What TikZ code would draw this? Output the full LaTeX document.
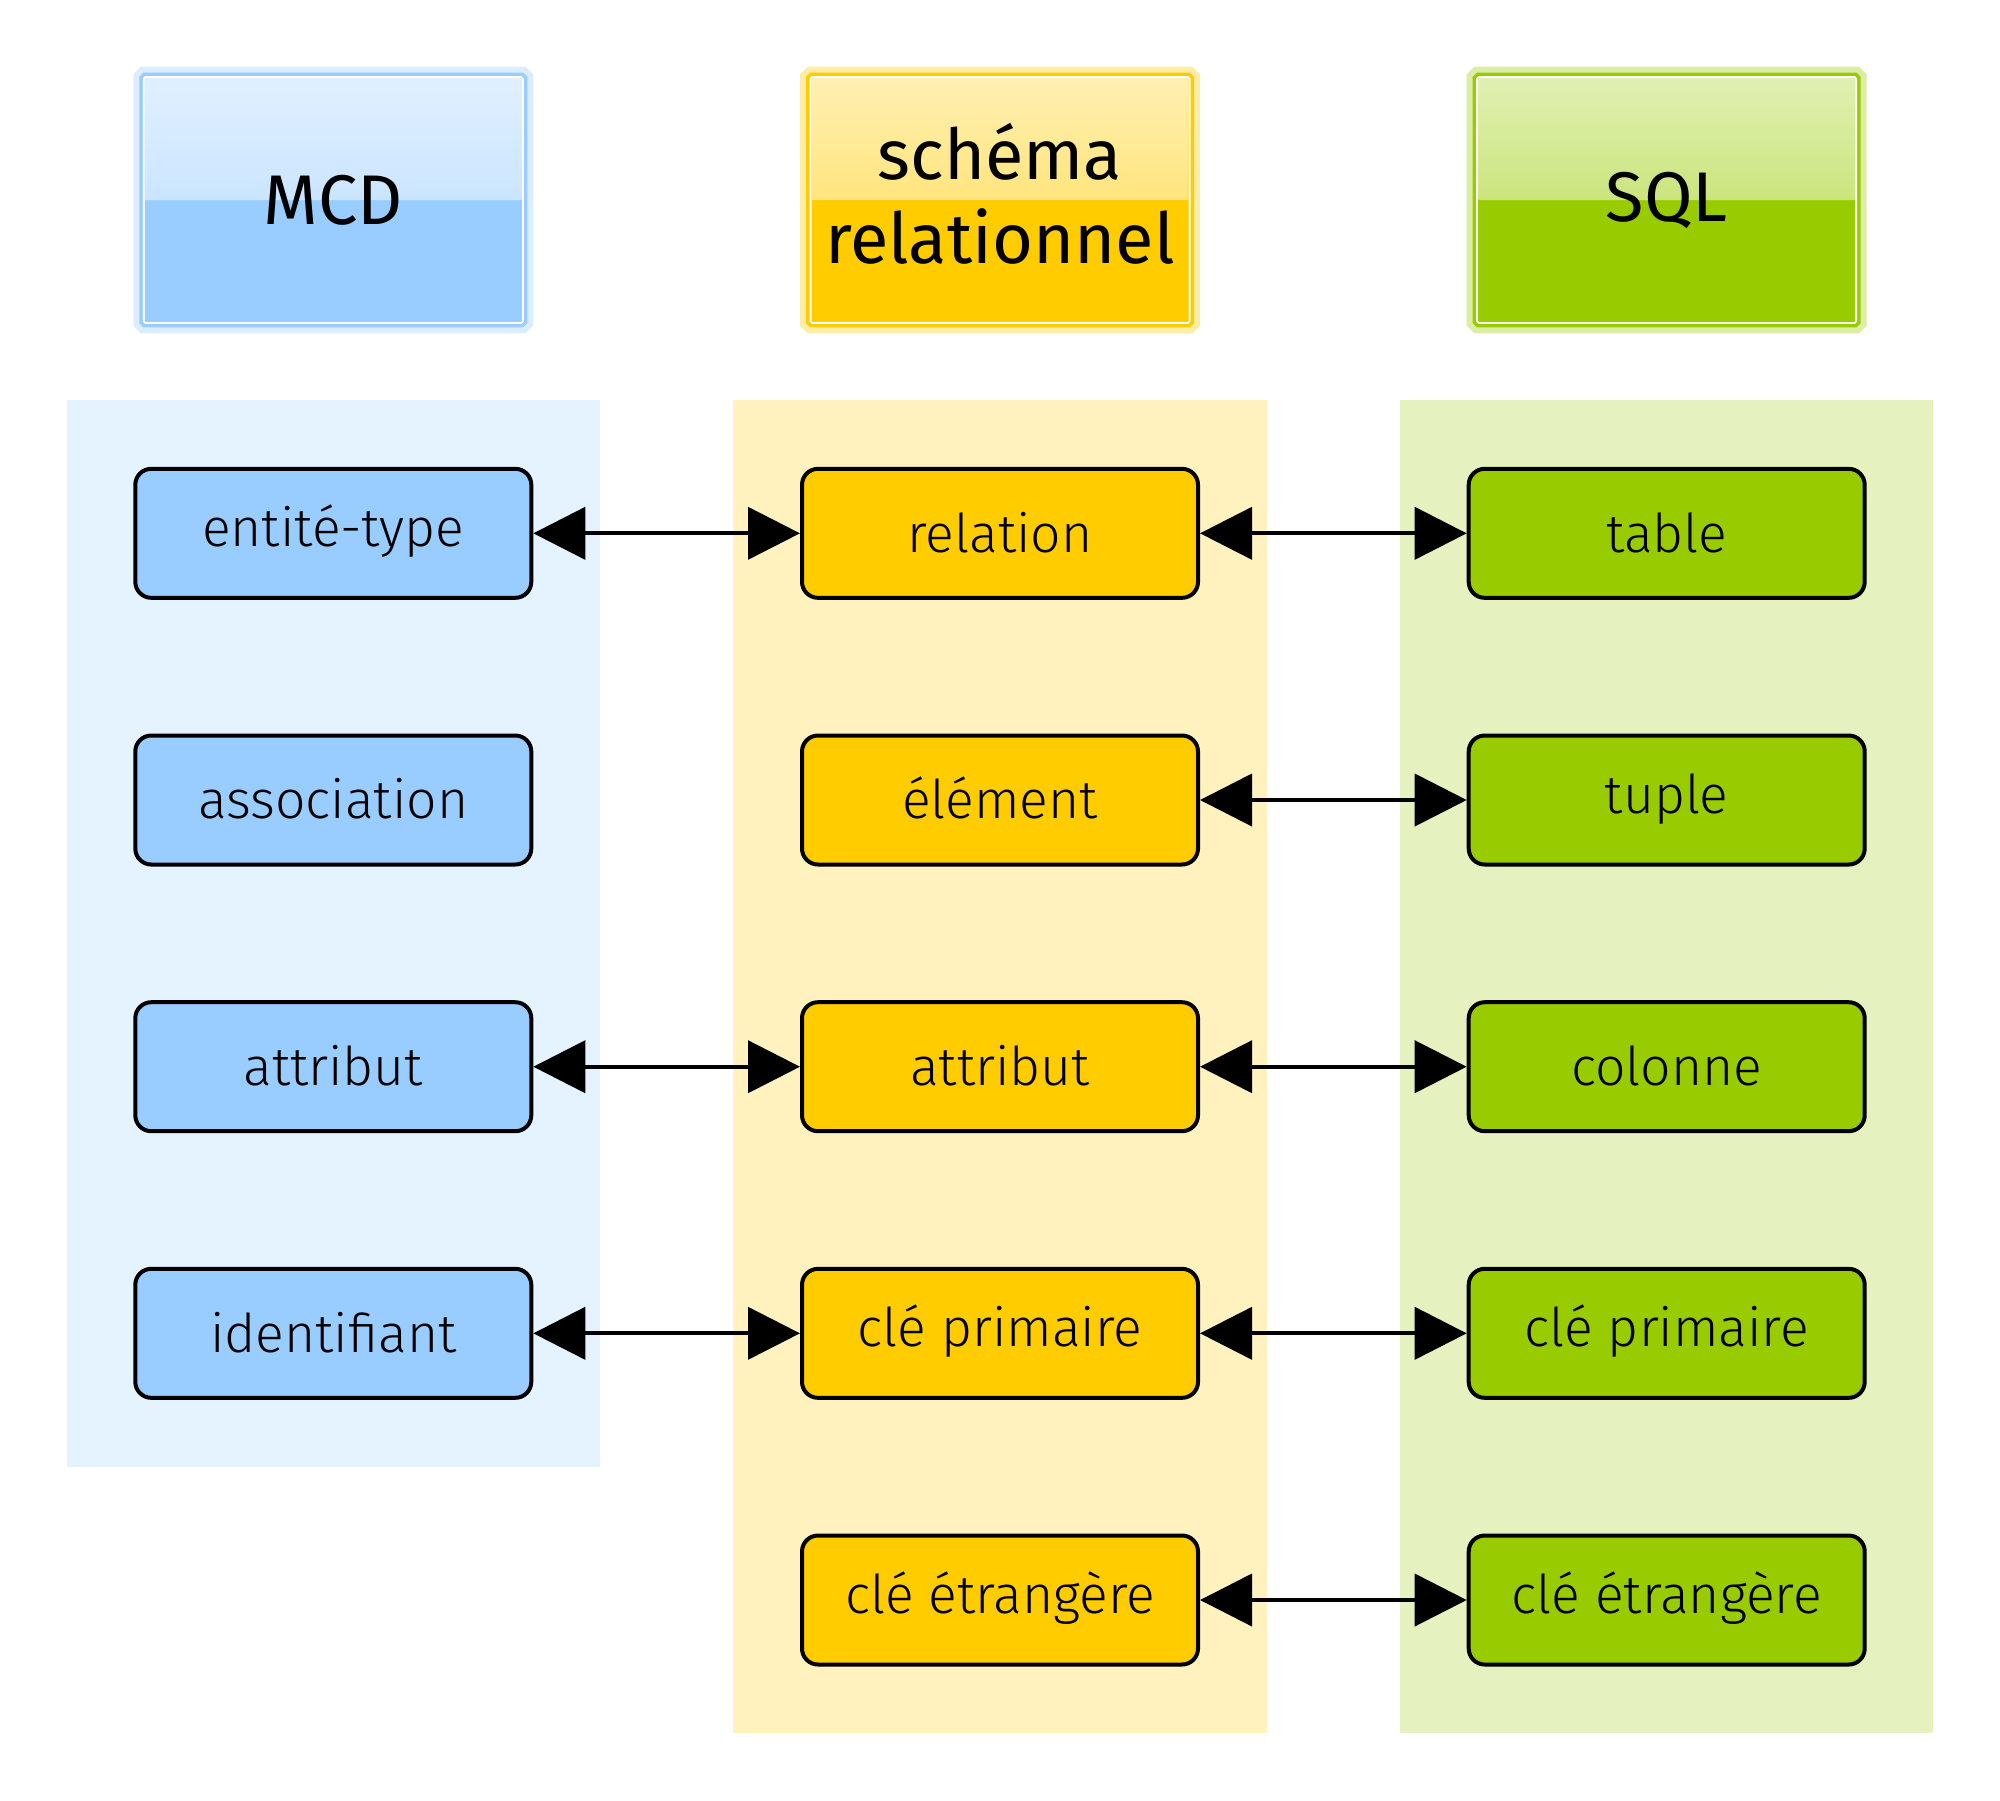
\documentclass[tikz,border=0pt]{standalone}
\usepackage{fontspec}
\setmainfont{Fira Sans}
\newfontfamily\lightfont{Fira Sans Light}
\usetikzlibrary{arrows.meta}
\definecolor{mcdblue}{HTML}{99CCFF}
\definecolor{relyellow}{HTML}{FFCC00}
\definecolor{sqlgreen}{HTML}{99CC00}
\tikzset{
  concept/.style={rectangle,rounded corners=0.16cm,draw=black,line width=0.04cm,fill=#1,minimum width=3.96cm,minimum height=1.29cm,font=\lightfont\fontsize{15.2}{18}\selectfont,text=black,text height=0.38cm},
  header/.style={rectangle,rounded corners=0.01cm,fill=#1,minimum width=3.77cm,minimum height=2.437cm,inner sep=0pt,align=center,outer sep=0pt,font=\fontsize{20}{24}\selectfont,
    preaction={draw=#1!35!white,line width=0.23cm},
    preaction={draw=#1,line width=0.11cm},
    preaction={draw=white,line width=0.04cm},
    path picture={\shade[top color=#1!30!white,bottom color=#1!72!white] (path picture bounding box.north west) rectangle (path picture bounding box.east);}},
  link/.style={{Triangle[length=0.52cm,width=0.52cm]}-{Triangle[length=0.52cm,width=0.52cm]},line width=0.04cm}
}
\begin{document}
\begin{tikzpicture}
\useasboundingbox (0,0) rectangle (20,-18);
% column backgrounds
\fill[mcdblue!25!white] (0.667,-4) rectangle (6,-14.667);
\fill[relyellow!25!white] (7.333,-4) rectangle (12.667,-17.333);
\fill[sqlgreen!25!white] (14,-4) rectangle (19.333,-17.333);
% headers
\node[header=mcdblue] (mcd) at (3.333,-2) {MCD};
\node[header=relyellow,text depth=0.13cm] (schema) at (10,-2) {schéma\\relationnel};
\node[header=sqlgreen] (sql) at (16.667,-2) {SQL};
% MCD
\node[concept=mcdblue] (entite) at (3.333,-5.333) {entité-type};
\node[concept=mcdblue] (assoc) at (3.333,-8) {association};
\node[concept=mcdblue] (attrmcd) at (3.333,-10.667) {attribut};
\node[concept=mcdblue] (ident) at (3.333,-13.333) {identifiant};
% schema relationnel
\node[concept=relyellow] (relation) at (10,-5.333) {relation};
\node[concept=relyellow] (element) at (10,-8) {élément};
\node[concept=relyellow] (attrrel) at (10,-10.667) {attribut};
\node[concept=relyellow] (pkrel) at (10,-13.333) {clé primaire};
\node[concept=relyellow] (fkrel) at (10,-16) {clé étrangère};
% SQL
\node[concept=sqlgreen] (table) at (16.667,-5.333) {table};
\node[concept=sqlgreen] (tuple) at (16.667,-8) {tuple};
\node[concept=sqlgreen] (colonne) at (16.667,-10.667) {colonne};
\node[concept=sqlgreen] (pksql) at (16.667,-13.333) {clé primaire};
\node[concept=sqlgreen] (fksql) at (16.667,-16) {clé étrangère};
% correspondances
\draw[link] (entite.east) -- (relation.west);
\draw[link] (relation.east) -- (table.west);
\draw[link] (element.east) -- (tuple.west);
\draw[link] (attrmcd.east) -- (attrrel.west);
\draw[link] (attrrel.east) -- (colonne.west);
\draw[link] (ident.east) -- (pkrel.west);
\draw[link] (pkrel.east) -- (pksql.west);
\draw[link] (fkrel.east) -- (fksql.west);
\end{tikzpicture}
\end{document}
